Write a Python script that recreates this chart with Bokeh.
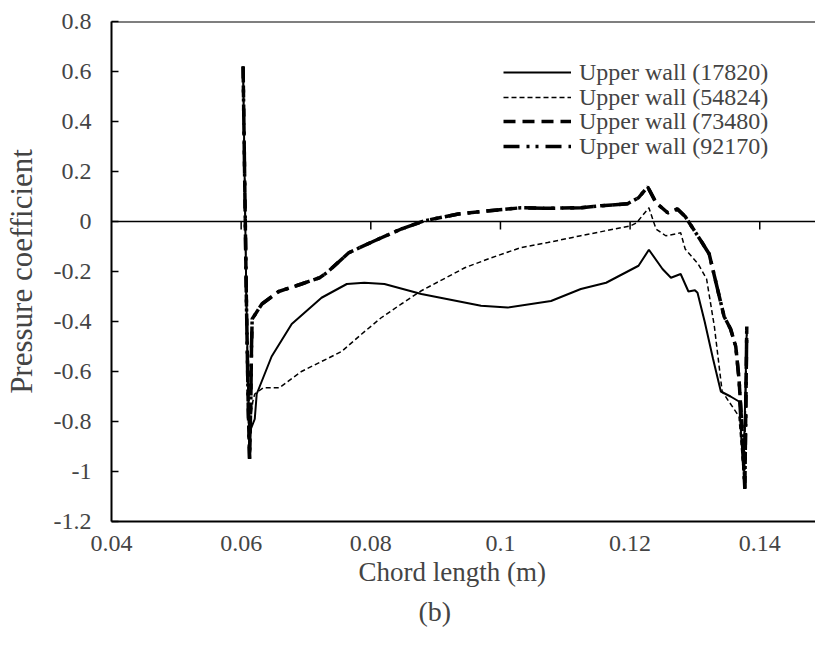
from bokeh.plotting import figure
from bokeh.models import Range1d, FixedTicker, CustomJSTickFormatter, Span, Legend, LegendItem, Title
from bokeh.embed import file_html
from bokeh.resources import INLINE

# ---- data ----
x_ticks = [0.04, 0.06, 0.08, 0.10, 0.12, 0.14]
y_ticks = [-1.2, -1.0, -0.8, -0.6, -0.4, -0.2, 0.0, 0.2, 0.4, 0.6, 0.8]

x_17820 = [0.0603, 0.0608, 0.0613, 0.0615, 0.0621, 0.0624, 0.0647, 0.0678, 0.0724, 0.0763, 0.0790, 0.0821,
           0.0878, 0.0970, 0.1011, 0.1078, 0.1124, 0.1163, 0.1213, 0.1229, 0.1250, 0.1263, 0.1278, 0.1290,
           0.1300, 0.1304, 0.1315, 0.1328, 0.1340, 0.1355, 0.1368, 0.1375, 0.1380]
cp_17820 = [0.62, -0.30, -0.95, -0.83, -0.79, -0.69, -0.54, -0.41, -0.305, -0.25, -0.245, -0.25,
            -0.29, -0.337, -0.344, -0.318, -0.27, -0.245, -0.177, -0.113, -0.19, -0.225, -0.21, -0.28,
            -0.275, -0.285, -0.40, -0.55, -0.68, -0.70, -0.72, -1.00, -0.43]

x_54824 = [0.0603, 0.0608, 0.0612, 0.0614, 0.0618, 0.0621, 0.0634, 0.0659, 0.0693, 0.0755, 0.0786, 0.0816,
           0.0847, 0.0878, 0.0945, 0.0986, 0.1032, 0.1073, 0.1124, 0.1201, 0.1210, 0.1229, 0.1240, 0.1255,
           0.1270, 0.1278, 0.1285, 0.1295, 0.1305, 0.1318, 0.1330, 0.1342, 0.1355, 0.1368, 0.1376, 0.1380]
cp_54824 = [0.62, -0.30, -0.92, -0.80, -0.72, -0.69, -0.665, -0.665, -0.60, -0.52, -0.45, -0.385,
            -0.33, -0.277, -0.185, -0.145, -0.104, -0.084, -0.057, -0.017, -0.005, 0.055, -0.03, -0.057,
            -0.05, -0.045, -0.11, -0.14, -0.17, -0.23, -0.42, -0.68, -0.73, -0.78, -1.05, -0.45]

x_73480 = [0.0603, 0.0608, 0.0611, 0.0613, 0.0615, 0.0616, 0.0617, 0.0632, 0.0658, 0.0693, 0.0721, 0.0732,
           0.0766, 0.0806, 0.0847, 0.0883, 0.0935, 0.0970, 0.1032, 0.1073, 0.1124, 0.1155, 0.1196, 0.1213,
           0.1227, 0.1240, 0.1258, 0.1273, 0.1285, 0.1295, 0.1310, 0.1322, 0.1333, 0.1345, 0.1355, 0.1363,
           0.1368, 0.1372, 0.1377, 0.1380]
cp_73480 = [0.62, -0.30, -0.75, -0.95, -0.70, -0.50, -0.39, -0.33, -0.28, -0.25, -0.225, -0.205,
            -0.125, -0.077, -0.03, 0.003, 0.03, 0.04, 0.055, 0.053, 0.055, 0.063, 0.071, 0.095,
            0.139, 0.075, 0.035, 0.05, 0.02, -0.02, -0.08, -0.13, -0.25, -0.38, -0.43, -0.50,
            -0.63, -0.80, -1.07, -0.42]

x_92170 = [0.0603, 0.0608, 0.0611, 0.0613, 0.0615, 0.0616, 0.0617, 0.0632, 0.0658, 0.0693, 0.0721, 0.0732,
           0.0766, 0.0806, 0.0847, 0.0883, 0.0935, 0.0970, 0.1032, 0.1073, 0.1124, 0.1155, 0.1196, 0.1213,
           0.1227, 0.1240, 0.1258, 0.1273, 0.1285, 0.1295, 0.1310, 0.1322, 0.1333, 0.1345, 0.1355, 0.1363,
           0.1368, 0.1372, 0.1377, 0.1380]
cp_92170 = [0.62, -0.30, -0.75, -0.95, -0.70, -0.50, -0.39, -0.33, -0.28, -0.25, -0.225, -0.205,
            -0.125, -0.077, -0.03, 0.003, 0.03, 0.04, 0.055, 0.053, 0.055, 0.063, 0.071, 0.095,
            0.139, 0.075, 0.035, 0.05, 0.02, -0.02, -0.08, -0.13, -0.25, -0.38, -0.43, -0.50,
            -0.63, -0.80, -1.07, -0.42]

labels = ["Upper wall (17820)", "Upper wall (54824)", "Upper wall (73480)", "Upper wall (92170)"]

FONT = "Liberation Serif"

p = figure(width=815, height=645, output_backend="svg", toolbar_location=None,
           x_range=Range1d(0.04, 0.1486), y_range=Range1d(-1.2, 0.8),
           min_border_left=109, min_border_right=0, min_border_top=21, min_border_bottom=124)
p.background_fill_color = "white"
p.border_fill_color = "white"
p.outline_line_color = None
p.grid.visible = False

fmt = CustomJSTickFormatter(code="return String(Math.round(tick*100)/100);")

# y axis
ya = p.yaxis[0]
ya.ticker = FixedTicker(ticks=y_ticks)
ya.formatter = fmt
ya.major_tick_in = 7
ya.major_tick_out = 0
ya.minor_tick_line_color = None
ya.axis_line_width = 2
ya.major_tick_line_width = 1.5
ya.major_label_text_font = FONT
ya.major_label_text_font_size = "24px"
ya.major_label_standoff = 20
ya.axis_label = "Pressure coefficient"
ya.axis_label_text_font = FONT
ya.axis_label_text_font_size = "31px"
ya.axis_label_text_font_style = "normal"
ya.axis_label_standoff = 12

# x axis (labels at the bottom, ticks on zero line)
xa = p.xaxis[0]
xa.ticker = FixedTicker(ticks=x_ticks)
xa.formatter = fmt
xa.major_tick_line_color = None
xa.minor_tick_line_color = None
xa.axis_line_width = 2
xa.major_label_text_font = FONT
xa.major_label_text_font_size = "24px"
xa.major_label_standoff = 8

p.add_layout(Span(location=0, dimension="width", line_color="black", line_width=1.5))
p.add_layout(Span(location=0.8, dimension="width", line_color="black", line_width=2))
p.segment(x0=x_ticks[1:], y0=[0] * (len(x_ticks) - 1), x1=x_ticks[1:], y1=[-0.032] * (len(x_ticks) - 1),
          line_color="black", line_width=1.5)

r1 = p.line(x_17820, cp_17820, line_color="black", line_width=2)
r2 = p.line(x_54824, cp_54824, line_color="black", line_width=1.5, line_dash="5 3")
r3 = p.line(x_73480, cp_73480, line_color="black", line_width=3.5, line_dash="12 7")
r4 = p.line(x_92170, cp_92170, line_color="black", line_width=3.5, line_dash="16 7 3 6 3 7")

# one legend per row, so the row pitch matches the original
row_y = [434, 409, 385, 360]
for lab, r, yy in zip(labels, [r1, r2, r3, r4], row_y):
    lg = Legend(items=[LegendItem(label=lab, renderers=[r])],
                location=(392, yy), padding=0, spacing=0, margin=0,
                glyph_width=68, glyph_height=30, label_height=30, label_standoff=8,
                label_text_font=FONT, label_text_font_size="24px",
                border_line_color=None, background_fill_alpha=0)
    p.add_layout(lg)

p.add_layout(Title(text="Chord length (m)", align="left", offset=247, text_font=FONT,
                   text_font_size="27px", text_font_style="normal", standoff=2), "below")
p.add_layout(Title(text="(b)", align="left", offset=307, text_font=FONT,
                   text_font_size="28px", text_font_style="normal", standoff=12), "below")

open("out.html", "w").write(file_html(p, INLINE))
